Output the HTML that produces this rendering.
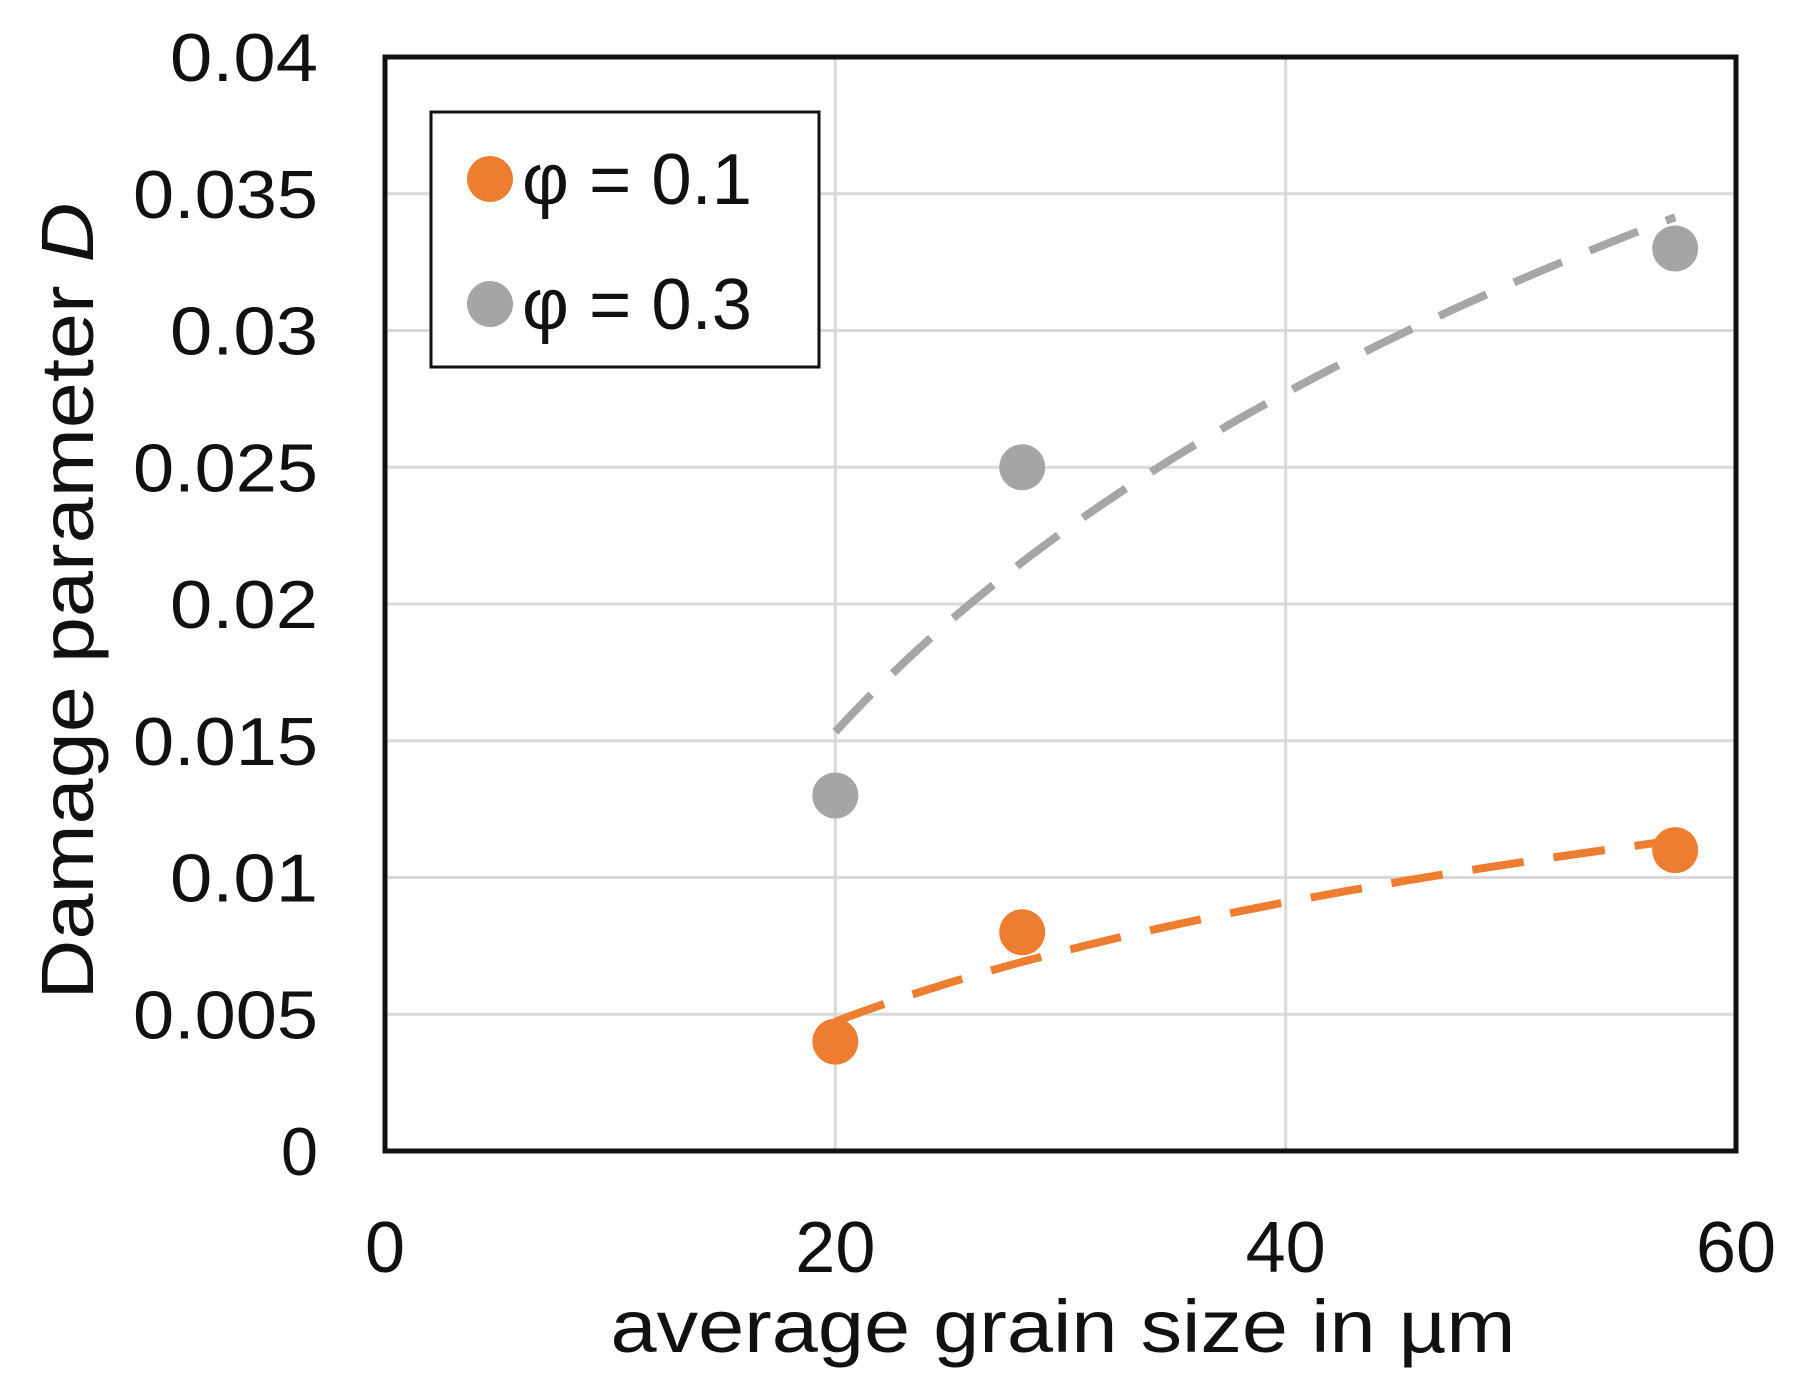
<!DOCTYPE html>
<html><head><meta charset="utf-8"><style>
html,body{margin:0;padding:0;background:#fff;}
svg{display:block;font-family:"Liberation Sans",sans-serif;}
</style></head><body>
<svg id="chart" width="1803" height="1397"></svg>
<script>
const xTicks=[0,20,40,60];
const yTicks=[0,0.005,0.01,0.015,0.02,0.025,0.03,0.035,0.04];
const yTickLabels=["0","0.005","0.01","0.015","0.02","0.025","0.03","0.035","0.04"];
const grainSize=[20,28.3,57.3];
const damage01=[0.004,0.008,0.011];
const damage03=[0.013,0.025,0.033];
const L=385,R=1736,T=57,B=1151;
const sx=v=>L+(v-0)/60*(R-L);
const sy=v=>B-(v/0.04)*(B-T);
const NS="http://www.w3.org/2000/svg";
const svg=document.getElementById('chart');
function mk(tag,attrs,parent){const e=document.createElementNS(NS,tag);for(const k in attrs)e.setAttribute(k,attrs[k]);(parent||svg).appendChild(e);return e;}
yTicks.forEach((v,i)=>{if(v===0)return;
 const g=mk('line',{x1:L,x2:R,y1:sy(v),y2:sy(v),stroke:'#d9d9d9','stroke-width':3});
 
 });
xTicks.forEach(v=>{if(v===0||v===60)return;
 const g=mk('line',{x1:sx(v),x2:sx(v),y1:T,y2:B,stroke:'#d9d9d9','stroke-width':3});
 
 });
yTicks.forEach((v,i)=>{
 const t=mk('text',{x:318,y:sy(v)+24,'text-anchor':'end','font-size':68,fill:'#111'});
 t.textContent=yTickLabels[i];
 t.setAttribute('textLength',String(yTickLabels[i].length*37));
 t.setAttribute('lengthAdjust','spacingAndGlyphs');
 
 });
xTicks.forEach(v=>{
 const t=mk('text',{x:sx(v),y:1272,'text-anchor':'middle','font-size':72,fill:'#111'});
 t.textContent=String(v);
 
 });
function logFit(xs,ys){const lx=xs.map(Math.log);const mx=lx.reduce((a,b)=>a+b)/lx.length,my=ys.reduce((a,b)=>a+b)/ys.length;
 let sxy=0,sxx=0;lx.forEach((x,i)=>{sxy+=(x-mx)*(ys[i]-my);sxx+=(x-mx)**2});const b=sxy/sxx;return x=>my+b*(Math.log(x)-mx);}
function trend(ys,color,name){const f=logFit(grainSize,ys);let d='';const x0=grainSize[0],x1=grainSize[grainSize.length-1];
 for(let i=0;i<=60;i++){const x=x0+(x1-x0)*i/60;d+=(i?'L':'M')+sx(x).toFixed(1)+' '+sy(f(x)).toFixed(1);}
 const p=mk('path',{d:d,fill:'none',stroke:color,'stroke-width':8,'stroke-dasharray':'52 30'});
 
 }
function points(ys,color,name){ys.forEach((v,i)=>{
 const c=mk('circle',{cx:sx(grainSize[i]),cy:sy(v),r:23,fill:color});
 
 });}
trend(damage03,'#a6a6a6','trendline-phi-0-3');
trend(damage01,'#ed7d31','trendline-phi-0-1');
points(damage03,'#a5a5a5','point-phi-0-3');
points(damage01,'#ed7d31','point-phi-0-1');
const fr=mk('rect',{x:L,y:T,width:R-L,height:B-T,fill:'none',stroke:'#111','stroke-width':5});


const lg=mk('g',{});


mk('rect',{x:431,y:112,width:388,height:255,fill:'#fff',stroke:'#111','stroke-width':3},lg);
[['φ = 0.1','#ed7d31',179],['φ = 0.3','#a5a5a5',304]].forEach(([lab,col,y])=>{
 const e=mk('g',{},lg);
 
 
 mk('circle',{cx:490,cy:y,r:23,fill:col},e);
 const t=mk('text',{x:522,y:y+25,'font-size':72,fill:'#111',textLength:230,lengthAdjust:'spacingAndGlyphs'},e);t.textContent=lab;});
const xt=mk('text',{x:1063,y:1352,'text-anchor':'middle','font-size':74,fill:'#111',textLength:905,lengthAdjust:'spacingAndGlyphs'});
xt.textContent='average grain size in µm';


const yt=mk('text',{x:0,y:0,'text-anchor':'middle','font-size':74,fill:'#111',transform:'translate(93,601) rotate(-90)',textLength:797,lengthAdjust:'spacingAndGlyphs'});
yt.innerHTML='Damage parameter <tspan font-style="italic">D</tspan>';


</script>
</body></html>
